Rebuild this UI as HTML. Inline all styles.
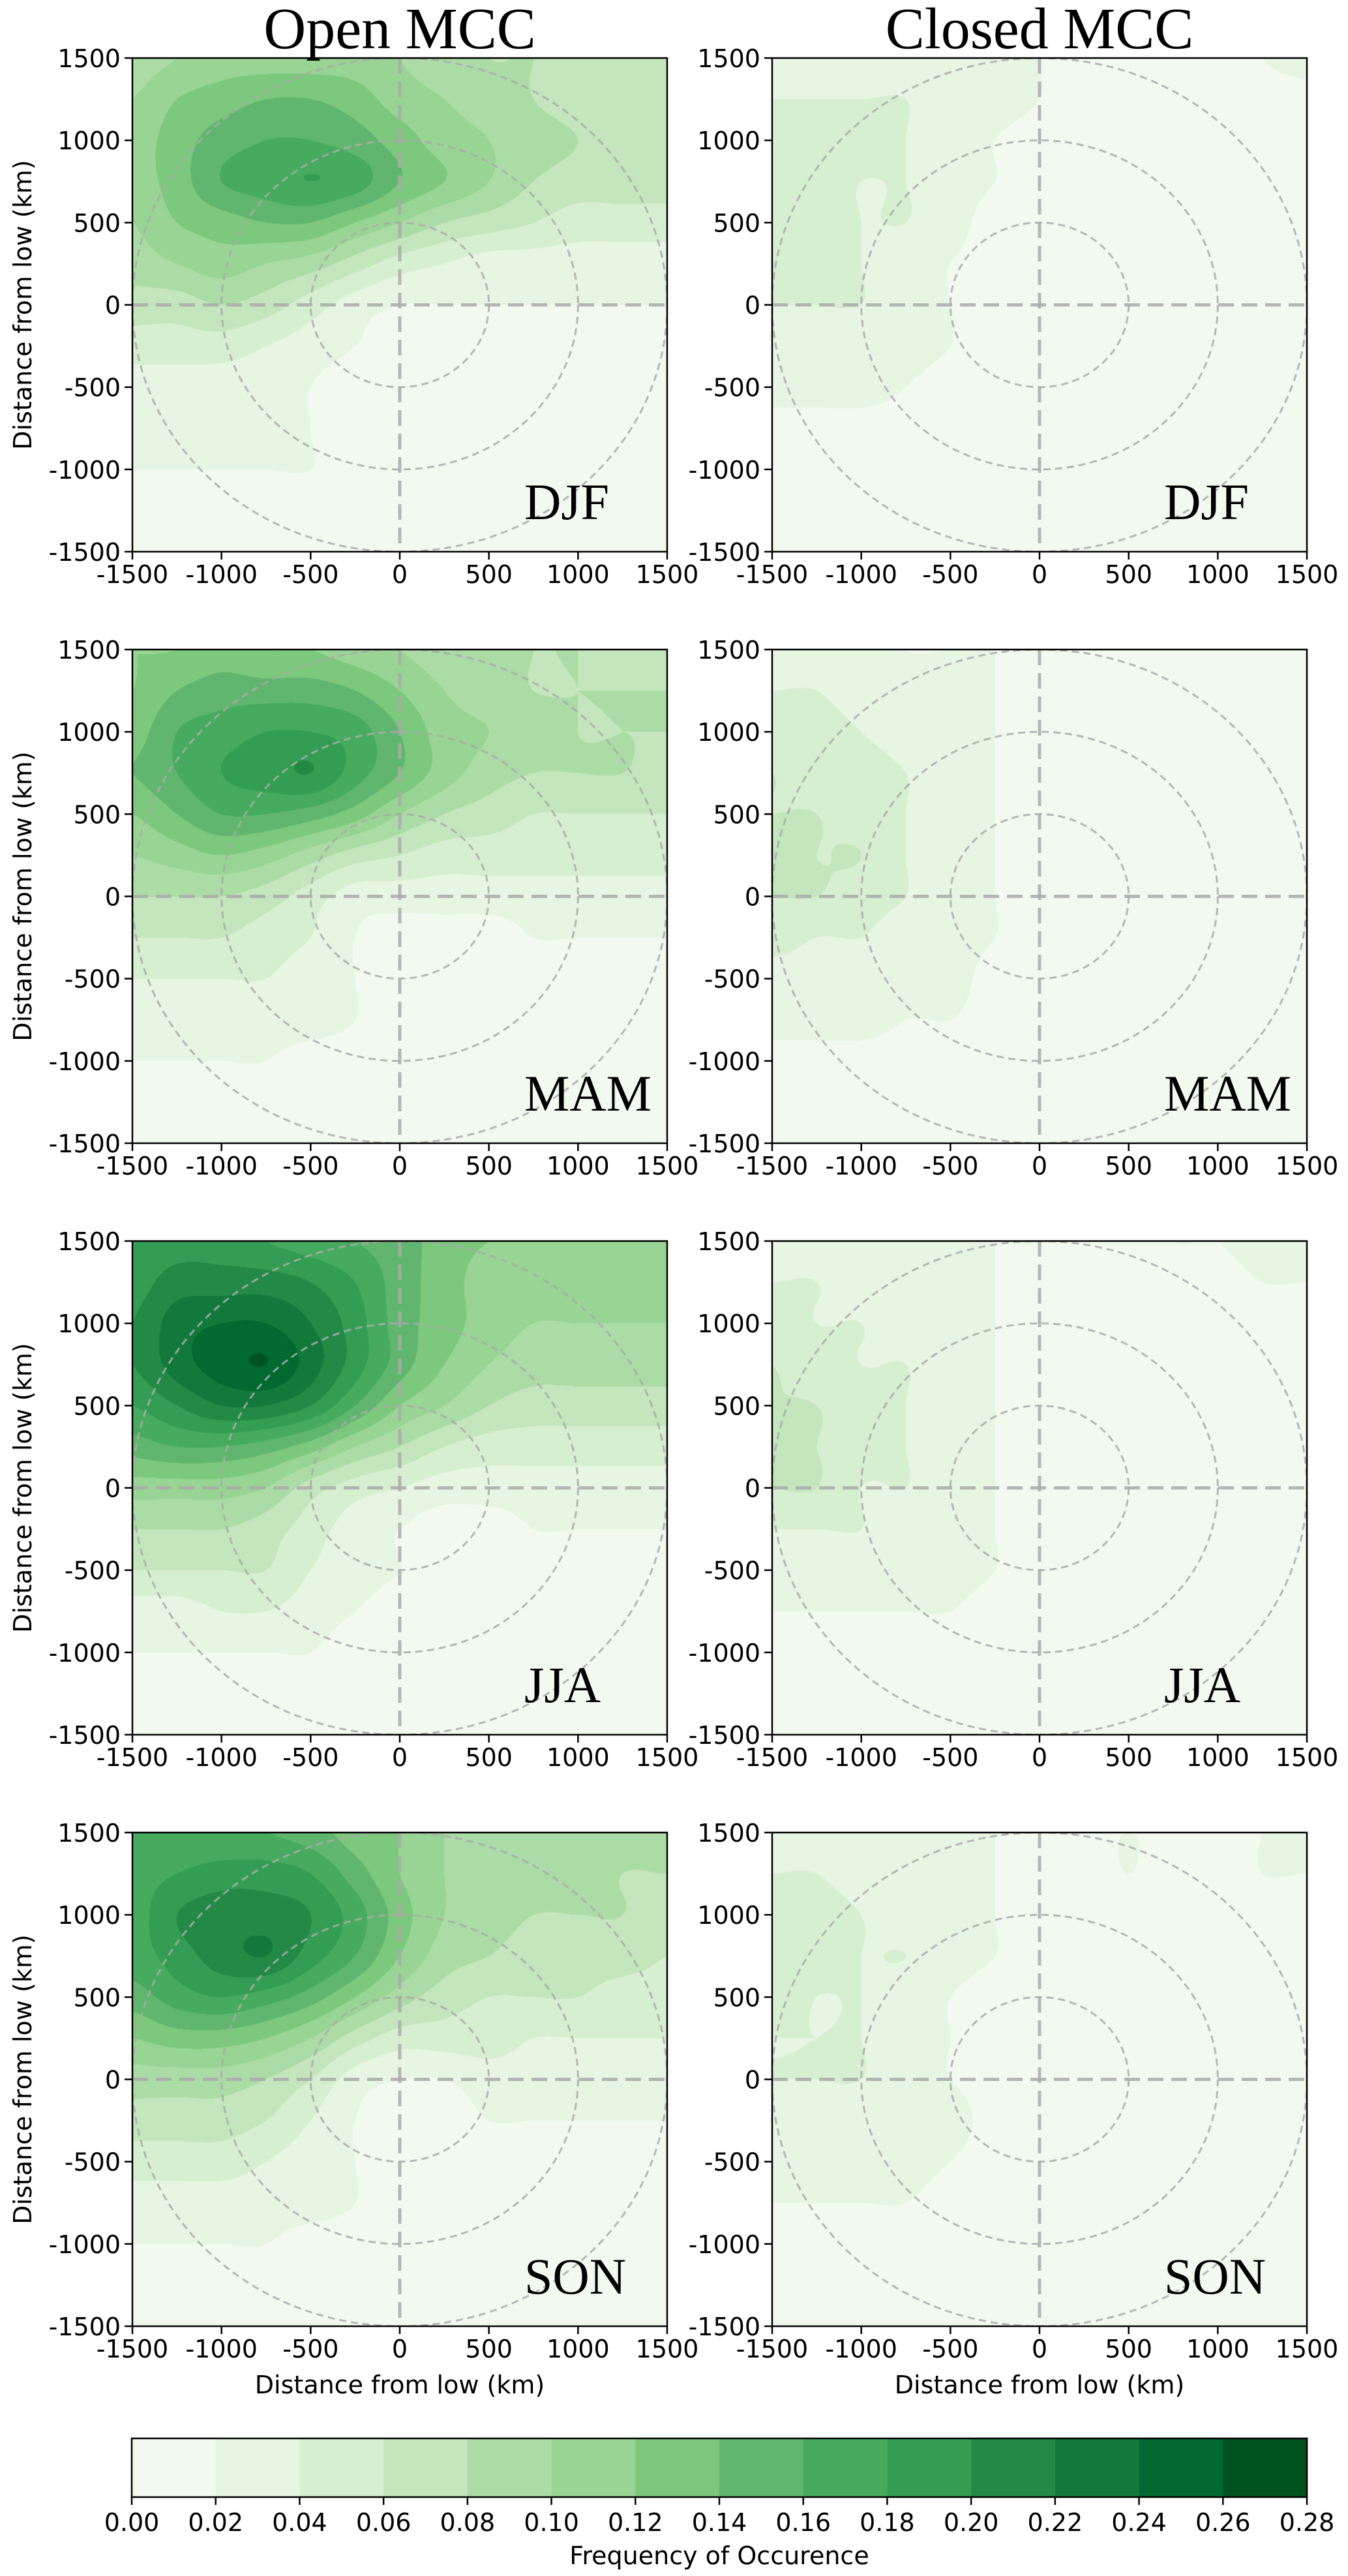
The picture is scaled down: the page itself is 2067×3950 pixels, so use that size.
<!DOCTYPE html>
<html><head><meta charset="utf-8">
<style>
html,body{margin:0;padding:0;background:#fff;}
#root{position:relative;width:2067px;height:3950px;overflow:hidden;background:#fff;}
canvas{position:absolute;}
svg{position:absolute;left:0;top:0;}
</style></head>
<body>
<div id="root">
<svg id="ov" width="2067" height="3950"></svg>
</div>
<script>
// ---- data ----
const xNodes = [-1500,-1250,-1000,-750,-500,-250,0,250,500,750,1000,1250,1500];
const yNodes = [1500,1250,1000,750,500,250,0,-250,-500,-750,-1000,-1250,-1500];
const seasons = ["DJF","MAM","JJA","SON"];
const columnTitles = ["Open MCC","Closed MCC"];
const axisTicks = [-1500,-1000,-500,0,500,1000,1500];
const colorbarTicks = ["0.00","0.02","0.04","0.06","0.08","0.10","0.12","0.14","0.16","0.18","0.20","0.22","0.24","0.26","0.28"];
const levelColors = ["#f2faf0","#e7f5e3","#d7efd1","#c3e6bc","#acdca6","#98d594","#7cc87c","#61b66f","#46ab5e","#339e53","#228a45","#117a3b","#006a30","#00521f"];

const openDJF = [
[.09,.10,.11,.11,.11,.11,.10,.09,.08,.08,.07,.07,.07],
[.10,.12,.13,.14,.14,.13,.11,.10,.09,.08,.07,.07,.07],
[.11,.13,.15,.16,.16,.15,.13,.11,.10,.09,.08,.07,.08],
[.11,.13,.16,.17,.18,.17,.14,.12,.10,.08,.07,.07,.07],
[.10,.12,.13,.14,.14,.12,.10,.08,.07,.06,.05,.05,.05],
[.09,.10,.11,.10,.09,.07,.05,.04,.03,.03,.03,.03,.03],
[.07,.07,.08,.07,.05,.03,.02,.02,.02,.02,.02,.02,.02],
[.05,.05,.05,.04,.03,.02,.01,.01,.01,.01,.01,.01,.01],
[.03,.03,.03,.03,.02,.01,.01,.01,.01,.01,.01,.01,.01],
[.03,.03,.03,.03,.02,.01,.01,.01,.01,.01,.01,.01,.01],
[.02,.02,.02,.02,.02,.01,.01,.01,.01,.01,.01,.01,.01],
[.01,.01,.01,.01,.01,.01,.01,.01,.01,.01,.01,.01,.01],
[.01,.01,.01,.01,.01,.01,.01,.01,.01,.01,.01,.01,.01]];
const openMAM = [
[.12,.12,.13,.12,.12,.11,.10,.09,.09,.08,.08,.07,.07],
[.12,.14,.15,.15,.15,.14,.12,.10,.09,.08,.08,.08,.08],
[.13,.16,.17,.18,.18,.17,.14,.11,.10,.09,.08,.08,.08],
[.14,.16,.18,.19,.20,.17,.14,.11,.09,.08,.08,.08,.07],
[.12,.14,.16,.16,.15,.13,.10,.08,.07,.06,.06,.06,.06],
[.10,.11,.12,.11,.09,.07,.06,.05,.05,.05,.05,.05,.05],
[.08,.08,.08,.07,.05,.03,.03,.03,.03,.03,.03,.03,.03],
[.06,.06,.06,.05,.04,.02,.01,.01,.01,.02,.02,.02,.02],
[.04,.04,.04,.04,.03,.02,.01,.01,.01,.01,.01,.01,.01],
[.03,.03,.03,.03,.03,.02,.01,.01,.01,.01,.01,.01,.01],
[.02,.02,.02,.02,.01,.01,.01,.01,.01,.01,.01,.01,.01],
[.01,.01,.01,.01,.01,.01,.01,.01,.01,.01,.01,.01,.01],
[.01,.01,.01,.01,.01,.01,.01,.01,.01,.01,.01,.01,.01]];
const openJJA = [
[.18,.19,.19,.18,.17,.16,.15,.13,.12,.12,.12,.12,.12],
[.19,.21,.21,.21,.20,.18,.15,.13,.11,.11,.11,.11,.11],
[.20,.23,.24,.24,.22,.19,.15,.13,.11,.10,.10,.10,.10],
[.20,.23,.25,.26,.23,.19,.15,.12,.10,.09,.09,.09,.09],
[.18,.20,.22,.22,.20,.16,.12,.10,.08,.07,.07,.07,.07],
[.15,.16,.16,.15,.13,.10,.08,.06,.05,.05,.05,.05,.05],
[.11,.11,.11,.10,.07,.05,.04,.03,.03,.03,.03,.03,.03],
[.08,.08,.08,.07,.05,.03,.02,.01,.01,.02,.02,.02,.02],
[.06,.06,.06,.06,.04,.03,.02,.01,.01,.01,.01,.01,.01],
[.03,.03,.04,.04,.03,.02,.01,.01,.01,.01,.01,.01,.01],
[.02,.02,.02,.02,.02,.01,.01,.01,.01,.01,.01,.01,.01],
[.01,.01,.01,.01,.01,.01,.01,.01,.01,.01,.01,.01,.01],
[.01,.01,.01,.01,.01,.01,.01,.01,.01,.01,.01,.01,.01]];
const openSON = [
[.16,.16,.16,.16,.15,.13,.12,.10,.09,.09,.09,.09,.09],
[.17,.18,.19,.19,.18,.15,.12,.10,.09,.09,.09,.08,.08],
[.17,.20,.21,.21,.20,.17,.13,.10,.09,.08,.08,.08,.07],
[.17,.19,.21,.22,.19,.16,.12,.09,.08,.07,.07,.07,.06],
[.15,.17,.18,.17,.15,.12,.09,.07,.06,.06,.06,.05,.05],
[.12,.13,.13,.12,.10,.07,.05,.05,.05,.04,.04,.04,.04],
[.09,.09,.09,.08,.06,.03,.02,.02,.03,.03,.03,.03,.03],
[.07,.07,.07,.06,.04,.02,.01,.01,.02,.02,.02,.02,.02],
[.05,.05,.05,.04,.03,.02,.01,.01,.01,.01,.01,.01,.01],
[.03,.03,.03,.03,.03,.02,.01,.01,.01,.01,.01,.01,.01],
[.02,.02,.02,.02,.01,.01,.01,.01,.01,.01,.01,.01,.01],
[.01,.01,.01,.01,.01,.01,.01,.01,.01,.01,.01,.01,.01],
[.01,.01,.01,.01,.01,.01,.01,.01,.01,.01,.01,.01,.01]];
const closedDJF = [
[.03,.03,.03,.03,.03,.03,.02,.01,.01,.01,.01,.02,.03],
[.04,.04,.04,.04,.03,.03,.02,.01,.01,.01,.01,.01,.01],
[.06,.05,.05,.04,.03,.02,.01,.01,.01,.01,.01,.01,.01],
[.05,.05,.04,.04,.03,.02,.01,.01,.01,.01,.01,.01,.01],
[.05,.05,.04,.04,.03,.01,.01,.01,.01,.01,.01,.01,.01],
[.05,.05,.04,.03,.02,.01,.01,.01,.01,.01,.01,.01,.01],
[.04,.04,.04,.03,.02,.01,.01,.01,.01,.01,.01,.01,.01],
[.03,.03,.03,.03,.02,.01,.01,.01,.01,.01,.01,.01,.01],
[.03,.03,.03,.02,.01,.01,.01,.01,.01,.01,.01,.01,.01],
[.01,.01,.01,.01,.01,.01,.01,.01,.01,.01,.01,.01,.01],
[.01,.01,.01,.01,.01,.01,.01,.01,.01,.01,.01,.01,.01],
[.01,.01,.01,.01,.01,.01,.01,.01,.01,.01,.01,.01,.01],
[.01,.01,.01,.01,.01,.01,.01,.01,.01,.01,.01,.01,.01]];
const closedMAM = [
[.03,.03,.03,.02,.02,.02,.01,.01,.01,.01,.01,.01,.02],
[.04,.04,.03,.03,.03,.02,.01,.01,.01,.01,.01,.01,.01],
[.05,.05,.04,.03,.03,.02,.01,.01,.01,.01,.01,.01,.01],
[.06,.05,.05,.04,.03,.02,.01,.01,.01,.01,.01,.01,.01],
[.06,.06,.05,.04,.03,.02,.01,.01,.01,.01,.01,.01,.01],
[.07,.06,.06,.04,.03,.02,.01,.01,.01,.01,.01,.01,.01],
[.06,.06,.05,.04,.03,.02,.01,.01,.01,.01,.01,.01,.01],
[.05,.04,.04,.03,.03,.02,.01,.01,.01,.01,.01,.01,.01],
[.03,.03,.03,.03,.03,.01,.01,.01,.01,.01,.01,.01,.01],
[.03,.03,.03,.02,.02,.01,.01,.01,.01,.01,.01,.01,.01],
[.01,.01,.01,.01,.01,.01,.01,.01,.01,.01,.01,.01,.01],
[.01,.01,.01,.01,.01,.01,.01,.01,.01,.01,.01,.01,.01],
[.01,.01,.01,.01,.01,.01,.01,.01,.01,.01,.01,.01,.01]];
const closedJJA = [
[.03,.03,.03,.03,.03,.02,.02,.01,.01,.02,.02,.03,.03],
[.04,.04,.03,.03,.03,.02,.01,.01,.01,.01,.01,.02,.02],
[.05,.04,.04,.03,.03,.02,.01,.01,.01,.01,.01,.01,.01],
[.06,.05,.04,.04,.03,.02,.01,.01,.01,.01,.01,.01,.01],
[.06,.06,.05,.04,.03,.02,.01,.01,.01,.01,.01,.01,.01],
[.06,.06,.05,.04,.03,.02,.01,.01,.01,.01,.01,.01,.01],
[.06,.06,.04,.04,.03,.02,.01,.01,.01,.01,.01,.01,.01],
[.04,.04,.04,.03,.03,.02,.01,.01,.01,.01,.01,.01,.01],
[.03,.03,.03,.03,.03,.02,.01,.01,.01,.01,.01,.01,.01],
[.02,.02,.02,.02,.02,.01,.01,.01,.01,.01,.01,.01,.01],
[.01,.01,.01,.01,.01,.01,.01,.01,.01,.01,.01,.01,.01],
[.01,.01,.01,.01,.01,.01,.01,.01,.01,.01,.01,.01,.01],
[.01,.01,.01,.01,.01,.01,.01,.01,.01,.01,.01,.01,.01]];
const closedSON = [
[.03,.03,.03,.03,.03,.02,.02,.02,.02,.02,.02,.02,.03],
[.04,.04,.03,.03,.03,.02,.01,.01,.02,.01,.01,.02,.02],
[.05,.05,.04,.03,.03,.02,.01,.01,.01,.01,.01,.01,.01],
[.05,.05,.04,.04,.03,.02,.01,.01,.01,.01,.01,.01,.01],
[.05,.04,.04,.03,.02,.01,.01,.01,.01,.01,.01,.01,.01],
[.04,.04,.04,.03,.02,.01,.01,.01,.01,.01,.01,.01,.01],
[.04,.04,.04,.03,.02,.01,.01,.01,.01,.01,.01,.01,.01],
[.03,.03,.03,.03,.03,.01,.01,.01,.01,.01,.01,.01,.01],
[.03,.03,.03,.03,.02,.01,.01,.01,.01,.01,.01,.01,.01],
[.02,.02,.02,.02,.01,.01,.01,.01,.01,.01,.01,.01,.01],
[.01,.01,.01,.01,.01,.01,.01,.01,.01,.01,.01,.01,.01],
[.01,.01,.01,.01,.01,.01,.01,.01,.01,.01,.01,.01,.01],
[.01,.01,.01,.01,.01,.01,.01,.01,.01,.01,.01,.01,.01]];

const grids = [[openDJF,closedDJF],[openMAM,closedMAM],[openJJA,closedJJA],[openSON,closedSON]];

// ---- layout ----
const colX = [203,1184], panelW = 820, panelH = 757;
const rowY = [89,996,1903,2810];
const NS = 'http://www.w3.org/2000/svg';
const root = document.getElementById('root');
const ov = document.getElementById('ov');
function mk(tag, attrs, parent){const e=document.createElementNS(NS,tag);for(const k in attrs)e.setAttribute(k,attrs[k]);(parent||ov).appendChild(e);return e;}
function hexRGB(h){return [parseInt(h.substr(1,2),16),parseInt(h.substr(3,2),16),parseInt(h.substr(5,2),16)];}
const rgbLevels = levelColors.map(hexRGB);

function cr(p0,p1,p2,p3,t){
  return 0.5*((2*p1)+(-p0+p2)*t+(2*p0-5*p1+4*p2-p3)*t*t+(-p0+3*p1-3*p2+p3)*t*t*t);
}
function sample(g, xk, yk){
  const nx=xNodes.length, ny=yNodes.length;
  const fx=(xk-xNodes[0])/(xNodes[1]-xNodes[0]);
  const fy=(yNodes[0]-yk)/(yNodes[0]-yNodes[1]);
  let i=Math.floor(fx), j=Math.floor(fy);
  i=Math.max(0,Math.min(nx-2,i)); j=Math.max(0,Math.min(ny-2,j));
  const tx=fx-i, ty=fy-j;
  const cl=(a,n)=>Math.max(0,Math.min(n-1,a));
  const rows=[];
  for(let m=-1;m<=2;m++){
    const rr=g[cl(j+m,ny)];
    rows.push(cr(rr[cl(i-1,nx)],rr[cl(i,nx)],rr[cl(i+1,nx)],rr[cl(i+2,nx)],tx));
  }
  return cr(rows[0],rows[1],rows[2],rows[3],ty);
}

for(let r=0;r<4;r++){
  for(let c=0;c<2;c++){
    const px=colX[c], py=rowY[r];
    const xs=v=>px+(v+1500)/3000*panelW;
    const ys=v=>py+(1500-v)/3000*panelH;
    const cv=document.createElement('canvas');
    cv.width=panelW; cv.height=panelH;
    cv.style.left=px+'px'; cv.style.top=py+'px';
    
    
    root.insertBefore(cv, ov);
    const ctx=cv.getContext('2d');
    const img=ctx.createImageData(panelW,panelH);
    const g=grids[r][c];
    for(let y=0;y<panelH;y++){
      const yk=1500-(y+0.5)/panelH*3000;
      for(let x=0;x<panelW;x++){
        const xk=-1500+(x+0.5)/panelW*3000;
        const v=sample(g,xk,yk);
        let L=Math.floor(v/0.02+1e-9); L=Math.max(0,Math.min(13,L));
        const col=rgbLevels[L], o=(y*panelW+x)*4;
        img.data[o]=col[0];img.data[o+1]=col[1];img.data[o+2]=col[2];img.data[o+3]=255;
      }
    }
    ctx.putImageData(img,0,0);

    const grp=mk('g',{});
    
    
    const clp=mk('clipPath',{id:'cp'+r+c},grp);
    mk('rect',{x:px,y:py,width:panelW,height:panelH},clp);
    const inner=mk('g',{'clip-path':'url(#cp'+r+c+')'},grp);
    [500,1000,1500].forEach(rad=>{
      const e=mk('ellipse',{cx:xs(0),cy:ys(0),rx:xs(rad)-xs(0),ry:ys(0)-ys(rad),fill:'none',stroke:'#aaaaaa','stroke-width':3,'stroke-dasharray':'11 7','stroke-opacity':0.85},inner);
      
      
    });
    const hl=mk('line',{x1:px,x2:px+panelW,y1:ys(0),y2:ys(0),stroke:'#aaaaaa','stroke-width':5,'stroke-dasharray':'24 12','stroke-opacity':0.85},inner);
    
    
    const vl=mk('line',{x1:xs(0),x2:xs(0),y1:py,y2:py+panelH,stroke:'#aaaaaa','stroke-width':5,'stroke-dasharray':'24 12','stroke-opacity':0.85},inner);
    
    
    const fr=mk('rect',{x:px,y:py,width:panelW,height:panelH,fill:'none',stroke:'#000','stroke-width':2.5},grp);
    
    
    axisTicks.forEach(t=>{
      mk('line',{x1:xs(t),x2:xs(t),y1:py+panelH,y2:py+panelH+12,stroke:'#000','stroke-width':2.5},grp);
      const tx=mk('text',{x:xs(t),y:py+panelH+48,'text-anchor':'middle','font-family':'DejaVu Sans, Liberation Sans, sans-serif','font-size':38,fill:'#000'},grp);
      tx.textContent=String(t);
      
      
      mk('line',{x1:px-12,x2:px,y1:ys(t),y2:ys(t),stroke:'#000','stroke-width':2.5},grp);
      const ty=mk('text',{x:px-18,y:ys(t)+14,'text-anchor':'end','font-family':'DejaVu Sans, Liberation Sans, sans-serif','font-size':38,fill:'#000'},grp);
      ty.textContent=String(t);
      
      
    });
    const sl=mk('text',{x:px+601,y:py+707,'font-family':'Liberation Serif, serif','font-size':78,fill:'#000'},grp);
    sl.textContent=seasons[r];
    
    
    if(c===0){
      const cy=py+panelH/2;
      const yt=mk('text',{x:48,y:cy,'text-anchor':'middle','font-family':'DejaVu Sans, Liberation Sans, sans-serif','font-size':38,fill:'#000',transform:'rotate(-90 48 '+cy+')'},grp);
      yt.textContent='Distance from low (km)';
      
      
    }
    if(r===3){
      const xt=mk('text',{x:px+panelW/2,y:3670,'text-anchor':'middle','font-family':'DejaVu Sans, Liberation Sans, sans-serif','font-size':38,fill:'#000'},grp);
      xt.textContent='Distance from low (km)';
      
      
    }
    if(r===0){
      const tt=mk('text',{x:px+panelW/2,y:74,'text-anchor':'middle','font-family':'Liberation Serif, serif','font-size':90,fill:'#000'},grp);
      tt.textContent=columnTitles[c];
      
      
    }
  }
}

// ---- colorbar ----
const cbX0=202, cbX1=2004, cbY0=3739, cbY1=3829;
const cbx=v=>cbX0+v/0.28*(cbX1-cbX0);
const cbg=mk('g',{});


levelColors.forEach((col,i)=>{
  const rr=mk('rect',{x:cbx(i*0.02),y:cbY0,width:cbx((i+1)*0.02)-cbx(i*0.02)+0.5,height:cbY1-cbY0,fill:col},cbg);
  
  
});
mk('rect',{x:cbX0,y:cbY0,width:cbX1-cbX0,height:cbY1-cbY0,fill:'none',stroke:'#000','stroke-width':2.5},cbg);
colorbarTicks.forEach(t=>{
  const v=parseFloat(t);
  mk('line',{x1:cbx(v),x2:cbx(v),y1:cbY1,y2:cbY1+12,stroke:'#000','stroke-width':2.5},cbg);
  const tx=mk('text',{x:cbx(v),y:3881,'text-anchor':'middle','font-family':'DejaVu Sans, Liberation Sans, sans-serif','font-size':38,fill:'#000'},cbg);
  tx.textContent=t;
  
  
});
const cbt=mk('text',{x:(cbX0+cbX1)/2,y:3932,'text-anchor':'middle','font-family':'DejaVu Sans, Liberation Sans, sans-serif','font-size':38,fill:'#000'},cbg);
cbt.textContent='Frequency of Occurence';


</script>
</body></html>
